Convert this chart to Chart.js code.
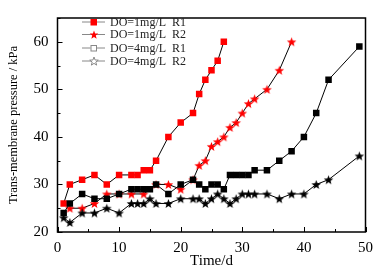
<!DOCTYPE html>
<html lang="en">
<head>
    <meta charset="UTF-8">
    <title>TMP</title>
    <style>
        body {margin: 0; background: #fff;}
        .chart-wrap {width: 380px; height: 269px;}
    </style>
</head>
<body>
    <div class="chart-wrap">
        <canvas id="myChart" width="380" height="269"></canvas>
    </div>

    <script src="https://cdn.jsdelivr.net/npm/chart.js@4.4.0/dist/chart.umd.min.js"></script>
    <script>

// data (time in days, pressure in kPa)
var labels = ['DO=1mg/L  R1', 'DO=1mg/L  R2', 'DO=4mg/L  R1', 'DO=4mg/L  R2'];

var day1R1 = [1, 2, 4, 6, 8, 10, 12, 13, 14, 15, 16, 18, 20, 22, 23, 24, 25, 26, 27];
var tmp1R1 = [26, 30, 31, 32, 30, 32, 32, 32, 33, 33, 35, 40, 43, 45, 49, 52, 54, 56, 60];

var day1R2 = [2, 4, 6, 8, 10, 12, 14, 16, 18, 20, 22, 23, 24, 25, 26, 27, 28, 29, 30, 31, 32, 34, 36, 38];
var tmp1R2 = [25, 25, 26, 28, 28, 28, 28, 30, 30, 29, 31, 34, 35, 38, 39, 40, 42, 43, 45, 47, 48, 50, 54, 60];

var day4R1 = [1, 2, 4, 6, 8, 10, 12, 13, 14, 15, 16, 18, 20, 22, 23, 24, 25, 26, 27, 28, 29, 30, 31, 32, 34, 36, 38, 40, 42, 44, 49];
var tmp4R1 = [24, 26, 28, 27, 27, 28, 29, 29, 29, 29, 30, 28, 30, 31, 30, 29, 30, 30, 29, 32, 32, 32, 32, 33, 33, 35, 37, 40, 45, 52, 59];

var day4R2 = [1, 2, 4, 6, 8, 10, 12, 13, 14, 15, 16, 18, 20, 22, 23, 24, 25, 26, 27, 28, 29, 30, 31, 32, 34, 36, 38, 40, 42, 44, 49];
var tmp4R2 = [23, 22, 24, 24, 25, 24, 26, 26, 26, 27, 26, 26, 27, 27, 27, 26, 27, 28, 27, 26, 27, 28, 28, 28, 28, 27, 28, 28, 30, 31, 36];

var xTicks = [0, 10, 20, 30, 40, 50];
var yTicks = [20, 30, 40, 50, 60];

var FONT = '"Liberation Serif", "Times New Roman", serif';

function toPoints(xs, ys) {
    return xs.map(function(x, i) { return {x: x, y: ys[i]}; });
}

// filled / hollow 5 point star
function starPath(ctx, cx, cy, R) {
    var r = R * 0.42;
    ctx.beginPath();
    for (var k = 0; k < 10; k++) {
        var rad = k % 2 === 0 ? R : r;
        var a = -Math.PI / 2 + k * Math.PI / 5;
        var px = cx + rad * Math.cos(a), py = cy + rad * Math.sin(a);
        if (k === 0) ctx.moveTo(px, py); else ctx.lineTo(px, py);
    }
    ctx.closePath();
}

function makeStar(color) {
    var c = document.createElement('canvas');
    c.width = 11; c.height = 11;
    var g = c.getContext('2d');
    starPath(g, 5.5, 6, 5);
    g.fillStyle = color;
    g.fill();
    return c;
}

var redStar = makeStar('#ff0000');
var blackStar = makeStar('#000000');

// inward ticks, frame and legend
var decoPlugin = {
    id: 'deco',
    afterDatasetsDraw: function(chart) {
        var ctx = chart.ctx;
        var a = chart.chartArea;
        var xs = chart.scales.x, ys = chart.scales.y;
        ctx.save();
        ctx.strokeStyle = '#000';
        ctx.lineWidth = 1.5;
        ctx.strokeRect(a.left, a.top, a.right - a.left, a.bottom - a.top);

        ctx.lineWidth = 1;
        for (var v = 0; v <= 50; v += 5) {
            var px = Math.round(xs.getPixelForValue(v)) + 0.5;
            var len = v % 10 === 0 ? 5 : 3;
            ctx.beginPath(); ctx.moveTo(px, a.bottom); ctx.lineTo(px, a.bottom - len); ctx.stroke();
        }
        for (var w = 20; w <= 65; w += 5) {
            var py = Math.round(ys.getPixelForValue(w)) + 0.5;
            var len2 = w % 10 === 0 ? 5 : 3;
            ctx.beginPath(); ctx.moveTo(a.left, py); ctx.lineTo(a.left + len2, py); ctx.stroke();
        }

        // legend
        var rows = [22, 34.5, 48, 61];
        ctx.font = '12px ' + FONT;
        ctx.textBaseline = 'middle';
        ctx.textAlign = 'left';
        for (var i = 0; i < 4; i++) {
            var y = rows[i];
            ctx.strokeStyle = '#888';
            ctx.lineWidth = 1;
            ctx.beginPath(); ctx.moveTo(82, y); ctx.lineTo(105, y); ctx.stroke();
            if (i === 0) {
                ctx.fillStyle = '#ff0000';
                ctx.fillRect(90.5, y - 3, 6.5, 6.5);
            } else if (i === 1) {
                starPath(ctx, 94, y + 0.5, 4.5);
                ctx.fillStyle = '#ff0000'; ctx.fill();
            } else if (i === 2) {
                ctx.fillStyle = '#fff';
                ctx.fillRect(90.5, y - 3, 6, 6);
                ctx.strokeStyle = '#888';
                ctx.strokeRect(91, y - 2.5, 5.5, 5.5);
            } else {
                starPath(ctx, 94, y + 0.5, 4.5);
                ctx.fillStyle = '#fff'; ctx.fill();
                ctx.strokeStyle = '#888'; ctx.stroke();
            }
            ctx.fillStyle = '#222';
            ctx.fillText(labels[i], 110, y + 0.5);
        }
        ctx.restore();
    }
};

var ctx = document.getElementById('myChart').getContext('2d');

var config = {
    type: 'line',
    plugins: [decoPlugin],
    data: {
        datasets: [{
            label: labels[0],
            data: toPoints(day1R1, tmp1R1),
            borderColor: '#000', borderWidth: 1,
            pointStyle: 'rect', pointRadius: 4.6,
            pointBackgroundColor: '#ff0000', pointBorderColor: '#ff0000', pointBorderWidth: 0,
            order: 4
        }, {
            label: labels[1],
            data: toPoints(day1R2, tmp1R2),
            borderColor: '#000', borderWidth: 1,
            pointStyle: redStar, pointRadius: 5,
            order: 3
        }, {
            label: labels[2],
            data: toPoints(day4R1, tmp4R1),
            borderColor: '#000', borderWidth: 1,
            pointStyle: 'rect', pointRadius: 4.6,
            pointBackgroundColor: '#000', pointBorderColor: '#000', pointBorderWidth: 0,
            order: 2
        }, {
            label: labels[3],
            data: toPoints(day4R2, tmp4R2),
            borderColor: '#000', borderWidth: 1,
            pointStyle: blackStar, pointRadius: 5,
            order: 1
        }]
    },
    options: {
        responsive: false,
        animation: false,
        layout: {padding: {left: 0, right: 12, top: 3, bottom: 0}},
        plugins: {
            legend: {display: false},
            tooltip: {enabled: false}
        },
        scales: {
            x: {
                type: 'linear', min: 0, max: 50,
                grid: {display: false, drawTicks: false},
                border: {display: false},
                afterFit: function(s) { s.height = 37; },
                afterBuildTicks: function(s) { s.ticks = xTicks.map(function(v) { return {value: v}; }); },
                ticks: {color: '#000', padding: 7, maxRotation: 0, font: {family: FONT, size: 15}},
                title: {display: true, text: 'Time/d', color: '#000', padding: {top: 0, bottom: 0},
                    font: {family: FONT, size: 15, lineHeight: 1}}
            },
            y: {
                min: 20, max: 65,
                grid: {display: false, drawTicks: false},
                border: {display: false},
                afterFit: function(s) { s.width = 57.5; },
                afterBuildTicks: function(s) { s.ticks = yTicks.map(function(v) { return {value: v}; }); },
                ticks: {color: '#000', padding: 9, font: {family: FONT, size: 15}},
                title: {display: true, text: 'Trans-membrane pressure / kPa', color: '#000', padding: {top: 7, bottom: 0},
                    font: {family: FONT, size: 12.5, lineHeight: 1}}
            }
        }
    }
};

var myChart = new Chart(ctx, config);
    </script>
</body>
</html>
